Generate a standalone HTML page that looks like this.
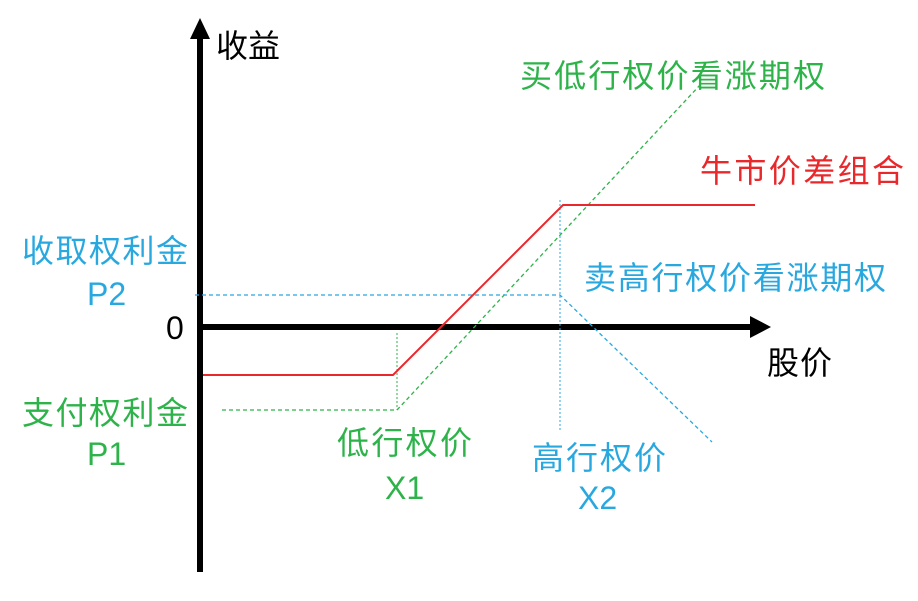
<!DOCTYPE html>
<html><head><meta charset="utf-8"><style>
html,body{margin:0;padding:0;background:#fff;}
svg text{font-family:"Liberation Sans","Noto Sans CJK SC",sans-serif;font-size:32px;}
</style></head><body>
<svg width="918" height="596" viewBox="0 0 918 596" xmlns="http://www.w3.org/2000/svg">
<rect width="918" height="596" fill="#fff"/>
<line x1="200" y1="36" x2="200" y2="572" stroke="#000" stroke-width="6"/>
<polygon points="200,18 190,39 210,39" fill="#000"/>
<line x1="200" y1="327" x2="752" y2="327" stroke="#000" stroke-width="6"/>
<polygon points="771,327 750,316 750,338" fill="#000"/>
<line x1="397" y1="333" x2="397" y2="410" stroke="#2db34a" stroke-width="1" stroke-dasharray="2,2"/>
<line x1="560" y1="200" x2="560" y2="432" stroke="#29a8e0" stroke-width="1" stroke-dasharray="2,2"/>
<polyline points="222,410 397,410 700,85" fill="none" stroke="#2db34a" stroke-width="1.3" stroke-dasharray="4,3"/>
<polyline points="195,295 560,295 712,442" fill="none" stroke="#29a8e0" stroke-width="1.3" stroke-dasharray="4,3"/>
<polyline points="203,375 393,375 563,205 755,205" fill="none" stroke="#e8282b" stroke-width="2"/>
<text x="216" y="57" fill="#000" textLength="64">收益</text>
<text x="520" y="87" fill="#2db34a" textLength="305">买低行权价看涨期权</text>
<text x="700" y="182" fill="#e8282b" textLength="204">牛市价差组合</text>
<text x="584" y="289" fill="#29a8e0" textLength="302">卖高行权价看涨期权</text>
<text x="22" y="262" fill="#29a8e0" textLength="166">收取权利金</text>
<text x="87" y="305" fill="#29a8e0">P2</text>
<text x="166" y="339" fill="#000">0</text>
<text x="767" y="374" fill="#000" textLength="65">股价</text>
<text x="22" y="424" fill="#2db34a" textLength="166">支付权利金</text>
<text x="87" y="465" fill="#2db34a">P1</text>
<text x="337" y="454" fill="#2db34a" textLength="135">低行权价</text>
<text x="385" y="499" fill="#2db34a">X1</text>
<text x="532" y="469" fill="#29a8e0" textLength="134">高行权价</text>
<text x="578" y="509" fill="#29a8e0">X2</text>
</svg>
</body></html>
